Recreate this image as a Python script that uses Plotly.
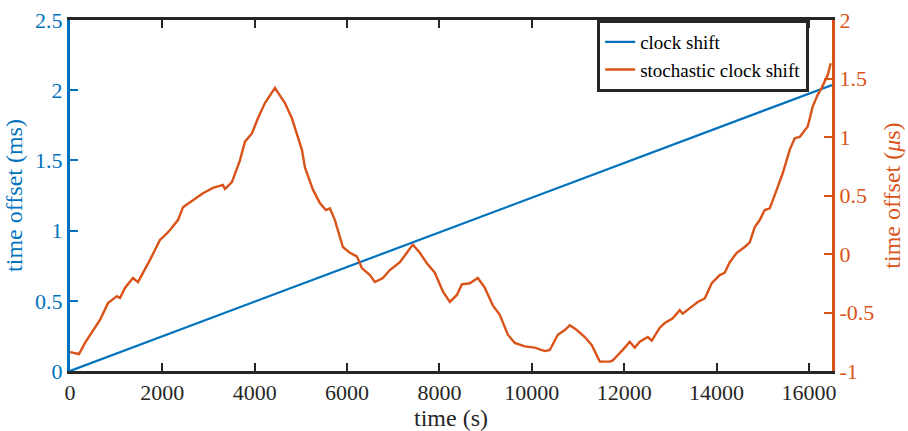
import plotly.graph_objects as go

# clock shift (ms), left axis
clock_t = [0, 16500]
clock_ms = [0, 2.037]

# stochastic clock shift (us), right axis
stoch_t = [0, 195, 325, 649, 823, 1017, 1082, 1190, 1364, 1472, 1732, 1948, 2056, 2165,
           2338, 2446, 2662, 2879, 3095, 3312, 3355, 3506, 3680, 3788, 3939, 4069, 4221,
           4437, 4654, 4805, 5022, 5087, 5260, 5411, 5541, 5628, 5736, 5779, 5909, 6061,
           6212, 6320, 6494, 6602, 6775, 6926, 7143, 7294, 7424, 7576, 7727, 7900, 8074,
           8225, 8377, 8485, 8658, 8831, 8983, 9156, 9307, 9481, 9632, 9848, 10065, 10281,
           10390, 10563, 10714, 10823, 10974, 11147, 11299, 11472, 11688, 11753, 11905,
           12013, 12121, 12229, 12338, 12511, 12597, 12771, 12879, 13052, 13203, 13268,
           13463, 13593, 13745, 13896, 14069, 14177, 14286, 14437, 14610, 14719, 14827,
           14935, 15043, 15152, 15303, 15433, 15584, 15693, 15801, 15974, 16082, 16190,
           16277, 16342, 16407, 16472]
stoch_us = [-0.838, -0.855, -0.76, -0.564, -0.42, -0.36, -0.376, -0.29, -0.205, -0.24,
            -0.05, 0.12, 0.16, 0.205, 0.29, 0.40, 0.46, 0.52, 0.565, 0.59, 0.555, 0.615,
            0.80, 0.96, 1.03, 1.16, 1.29, 1.42, 1.29, 1.16, 0.89, 0.74, 0.55, 0.436, 0.376,
            0.39, 0.29, 0.23, 0.06, 0.01, -0.02, -0.12, -0.18, -0.24, -0.205, -0.137,
            -0.07, 0.01, 0.08, 0.01, -0.08, -0.16, -0.32, -0.41, -0.35, -0.26, -0.25,
            -0.205, -0.29, -0.44, -0.52, -0.69, -0.76, -0.79, -0.80, -0.83, -0.82, -0.69,
            -0.65, -0.61, -0.65, -0.71, -0.78, -0.92, -0.92, -0.91, -0.85, -0.80, -0.75,
            -0.80, -0.75, -0.71, -0.74, -0.63, -0.59, -0.55, -0.48, -0.51, -0.45, -0.41,
            -0.38, -0.25, -0.18, -0.16, -0.07, 0.01, 0.06, 0.10, 0.23, 0.29, 0.376, 0.39,
            0.55, 0.69, 0.89, 0.99, 1.00, 1.09, 1.26, 1.36, 1.42, 1.47, 1.53, 1.63]

x_ticks = [0, 2000, 4000, 6000, 8000, 10000, 12000, 14000, 16000]
left_ticks = [0, 0.5, 1, 1.5, 2, 2.5]
left_labels = ["0", "0.5", "1", "1.5", "2", "2.5"]
right_ticks = [-1, -0.5, 0, 0.5, 1, 1.5, 2]
right_labels = ["-1", "-0.5", "0", "0.5", "1", "1.5", "2"]

BLUE = "#0072BD"
ORANGE = "#D95319"
DARK = "#262626"
FONT = "Liberation Serif"

fig = go.Figure()
fig.add_trace(go.Scatter(x=clock_t, y=clock_ms, mode="lines", name="clock shift",
                         line=dict(color=BLUE, width=2.2)))
fig.add_trace(go.Scatter(x=stoch_t, y=stoch_us, mode="lines", name="stochastic clock shift",
                         line=dict(color=ORANGE, width=2.4), yaxis="y2"))

fig.update_layout(
    width=908, height=431,
    margin=dict(l=70, r=76, t=20, b=60),
    paper_bgcolor="white", plot_bgcolor="white",
    font=dict(family=FONT, size=22, color=DARK),
    showlegend=True,
    legend=dict(x=0.970, xanchor="right", y=1, yanchor="top",
                bgcolor="white", bordercolor=DARK, borderwidth=3,
                font=dict(family=FONT, size=19, color="black"),
                itemwidth=30, tracegroupgap=0),
    xaxis=dict(range=[0, 16500], tickvals=x_ticks, tickformat="d", automargin=False,
               showline=True, linecolor=DARK, linewidth=2.5, mirror="ticks",
               ticks="inside", ticklen=8, tickwidth=2, tickcolor=DARK,
               showgrid=False, zeroline=False, ticklabelstandoff=0,
               title=dict(text="time (s)", font=dict(size=24, color=DARK), standoff=8),
               tickfont=dict(size=22, color=DARK)),
    yaxis=dict(range=[0, 2.5], tickvals=left_ticks, ticktext=left_labels, automargin=False,
               showline=True, linecolor=BLUE, linewidth=3,
               ticks="inside", ticklen=8, tickwidth=2, tickcolor=BLUE,
               showgrid=False, zeroline=False,
               tickfont=dict(size=22, color=BLUE),
               title=dict(text="time offset (ms)", font=dict(size=24, color=BLUE), standoff=6)),
    yaxis2=dict(range=[-1, 2], tickvals=right_ticks, ticktext=right_labels, automargin=False,
                overlaying="y", side="right",
                showline=True, linecolor=ORANGE, linewidth=3,
                ticks="inside", ticklen=8, tickwidth=2, tickcolor=ORANGE,
                showgrid=False, zeroline=False,
                tickfont=dict(size=22, color=ORANGE),
                title=dict(text="time offset (<i>μ</i>s)", font=dict(size=24, color=ORANGE), standoff=10)),
)

fig.write_html("out.html")
